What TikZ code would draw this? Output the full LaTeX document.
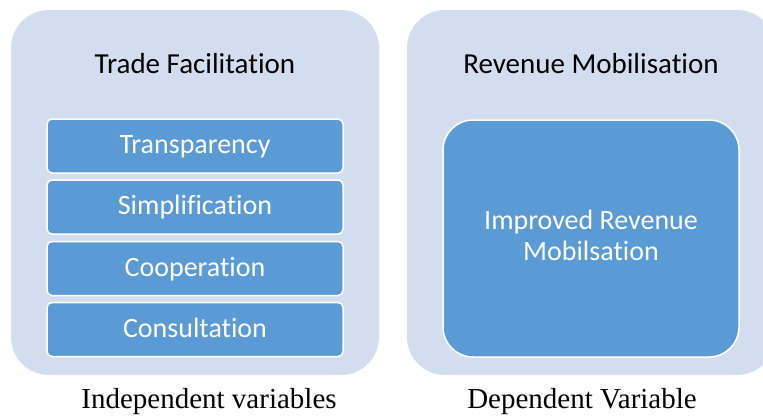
\documentclass[tikz,border=0pt]{standalone}
\usepackage{fontspec}
\setmainfont{Carlito}[Ligatures={NoCommon,NoContextual}]
\newfontfamily\capfont{Liberation Serif}
\definecolor{panelblue}{HTML}{D2DEEF}
\definecolor{tileblue}{HTML}{5B9BD5}

\begin{document}
\begin{tikzpicture}
\tikzset{panel/.style={fill=panelblue,rounded corners=38pt,minimum width=368pt,minimum height=365pt,inner sep=0pt,anchor=center}}
\tikzset{paneltitle/.style={anchor=base,text=black,font=\fontsize{29}{35}\selectfont}}
\tikzset{varbox/.style={draw=white,line width=1.5pt,fill=tileblue,rounded corners=5pt,minimum width=296pt,minimum height=54pt,inner sep=0pt,text=white,font=\fontsize{28}{31}\selectfont,text height=20pt,text depth=5pt,anchor=center}}
\tikzset{bigbox/.style={draw=white,line width=1.5pt,fill=tileblue,rounded corners=30pt,minimum width=296pt,minimum height=237pt,inner sep=0pt,text=white,font=\fontsize{28}{31}\selectfont,align=center,text depth=6pt,anchor=center}}
\tikzset{caption/.style={anchor=base,text=black,font=\capfont\fontsize{29}{34}\selectfont}}

\begin{scope}[x={(1pt,0pt)},y={(0pt,-1pt)}]
\path[use as bounding box] (0,0) rectangle (763,415);
\clip (0,0) rectangle (763,415);

\node[panel] (tf) at (195,192.5) {};
\node[panel] (rm) at (591,192.5) {};

\node[paneltitle] (tftitle) at (195,73) {Trade Facilitation};
\node[paneltitle] (rmtitle) at (591,73) {Revenue Mobilisation};

\foreach \i/\y/\lbl in {1/146/Transparency,2/207/Simplification,3/268.5/Cooperation,4/329.5/Consultation} {
   \node[varbox] (var\i) at (195,\y) {\lbl};
}

\node[bigbox] (irm) at (591,238.5) {Improved Revenue\\Mobilsation};

\node[caption] (indep) at (209,408) {Independent variables};
\node[caption] (dep) at (582,408) {Dependent Variable};

\end{scope}
\end{tikzpicture}
\end{document}
